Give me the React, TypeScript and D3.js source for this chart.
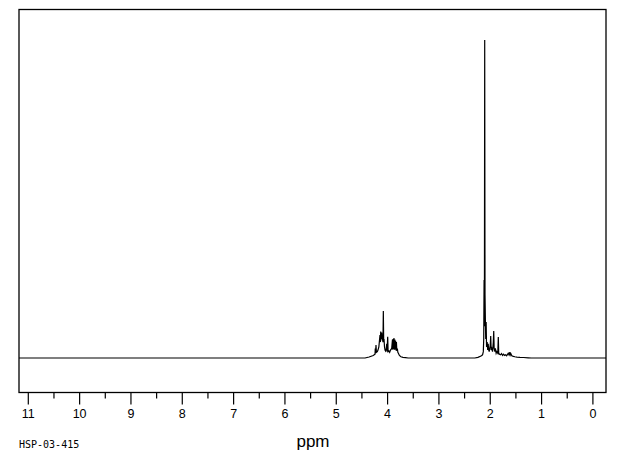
import React from "react";
import * as d3 from "d3";

// ppm axis tick labels
const majorTicks: number[] = [11, 10, 9, 8, 7, 6, 5, 4, 3, 2, 1, 0];
const minorTicks: number[] = [10.5, 9.5, 8.5, 7.5, 6.5, 5.5, 4.5, 3.5, 2.5, 1.5, 0.5];

// spectrum trace: chemical shift (ppm) and relative intensity
const shiftPpm: number[] = [
  11.2, 4.44, 4.36, 4.28, 4.245, 4.24, 4.235, 4.226, 4.218, 4.2, 4.187, 4.17, 4.155, 4.148, 4.14,
  4.134, 4.125, 4.115, 4.105, 4.099, 4.09, 4.083, 4.076, 4.07, 4.06, 4.05, 4.04, 4.025, 4.017, 4.01,
  3.998, 3.99, 3.975, 3.96, 3.943, 3.92, 3.905, 3.898, 3.892, 3.885, 3.876, 3.867, 3.859, 3.851, 3.844,
  3.836, 3.828, 3.82, 3.81, 3.8, 3.79, 3.77, 3.74, 3.7, 3.65, 3.6,
  2.3, 2.24, 2.18, 2.15, 2.135, 2.127, 2.12, 2.114, 2.108, 2.102, 2.095, 2.088, 2.08, 2.072, 2.06,
  2.05, 2.04, 2.03, 2.02, 2.0, 1.991, 1.982, 1.97, 1.955, 1.94, 1.932, 1.924, 1.91, 1.9, 1.885,
  1.872, 1.853, 1.843, 1.835, 1.82, 1.8, 1.78, 1.76, 1.74, 1.72, 1.7, 1.68, 1.65, 1.635, 1.62,
  1.61, 1.6, 1.58, 1.55, 1.52, 1.48, 1.42, 1.35, 1.26, 1.2, -0.3,
];
const intensity: number[] = [
  0, 0, 0.3, 0.8, 1.2, 3.0, 1.5, 4.1, 1.8, 2.0, 2.5, 3.5, 6.0, 7.2, 5.0,
  8.3, 6.0, 8.0, 5.5, 6.5, 5.0, 14.8, 5.0, 6.0, 3.5, 2.5, 2.2, 3.0, 4.5, 2.0,
  6.7, 2.0, 2.2, 1.8, 2.5, 3.0, 5.8, 2.6, 6.0, 2.8, 6.3, 2.6, 5.8, 2.7, 5.4,
  2.4, 5.0, 2.2, 3.0, 1.8, 1.5, 0.8, 0.4, 0.2, 0.1, 0,
  0, 0.2, 0.6, 1.0, 2.0, 6.0, 24.5, 10, 100, 20, 12, 6, 11.3, 3.5, 5.0,
  2.5, 4.5, 2.5, 2.0, 4.0, 6.9, 2.5, 3.0, 2.0, 5.0, 8.5, 3.0, 2.0, 3.0, 1.5,
  2.0, 1.5, 6.6, 1.5, 1.2, 1.0, 1.4, 0.8, 1.2, 0.8, 1.0, 0.7, 1.5, 1.0, 1.8,
  1.0, 1.4, 0.7, 0.5, 0.4, 0.3, 0.2, 0.15, 0.05, 0, 0,
];

const axisTitle = "ppm";
const sampleId = "HSP-03-415";

export default function App() {
  const W = 620;
  const H = 455;
  const frame = { left: 19, right: 606, top: 9.5, bottom: 392.5 };

  const x = d3.scaleLinear().domain([11, 0]).range([28.3, 592.9]);
  const y = d3.scaleLinear().domain([0, 100]).range([358, 40]);

  const pts: [number, number][] = shiftPpm.map((p, i) => [p, intensity[i]]);
  const line = d3
    .line<[number, number]>()
    .x((d) => Math.max(frame.left, Math.min(frame.right, x(d[0]))))
    .y((d) => y(d[1]));

  return (
    <svg
      width={W}
      height={H}
      style={{ position: "absolute", left: 0, top: 0, background: "#fff" }}
    >
      <rect x={0} y={0} width={W} height={H} fill="#fff" />
      <path d={line(pts) || ""} fill="none" stroke="#000" strokeWidth={1.2} />
      <rect
        x={frame.left}
        y={frame.top}
        width={frame.right - frame.left}
        height={frame.bottom - frame.top}
        fill="none"
        stroke="#000"
        strokeWidth={1.3}
      />
      {majorTicks.map((t) => (
        <g key={"M" + t}>
          <line
            x1={x(t)}
            x2={x(t)}
            y1={frame.bottom}
            y2={frame.bottom + 12}
            stroke="#000"
            strokeWidth={1.2}
          />
          <text
            x={x(t)}
            y={418}
            textAnchor="middle"
            fontFamily="'Liberation Sans', Arial, sans-serif"
            fontSize={12.5}
            fill="#000"
          >
            {t}
          </text>
        </g>
      ))}
      {minorTicks.map((t) => (
        <line
          key={"m" + t}
          x1={x(t)}
          x2={x(t)}
          y1={frame.bottom}
          y2={frame.bottom + 6}
          stroke="#000"
          strokeWidth={1.2}
        />
      ))}
      <text
        x={313}
        y={447}
        textAnchor="middle"
        fontFamily="'Liberation Sans', Arial, sans-serif"
        fontSize={17}
        fill="#000"
      >
        {axisTitle}
      </text>
      <text
        x={19}
        y={448}
        fontFamily="'DejaVu Sans Mono', monospace"
        fontSize={10}
        fill="#000"
      >
        {sampleId}
      </text>
    </svg>
  );
}
